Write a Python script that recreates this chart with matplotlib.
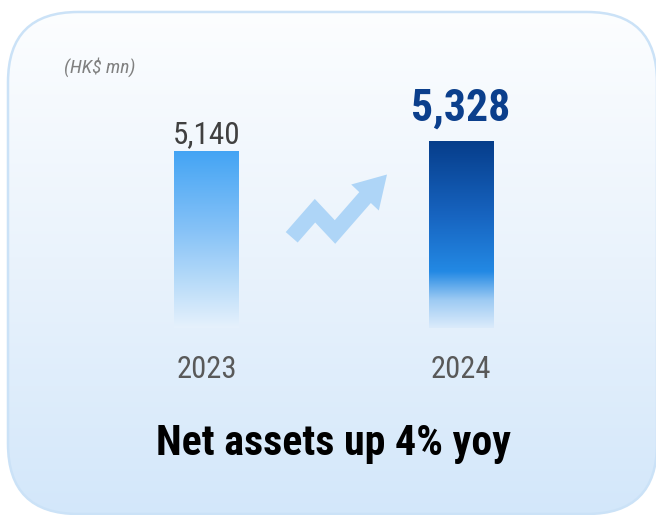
import numpy as np
import matplotlib
matplotlib.use("Agg")
import matplotlib.pyplot as plt
from matplotlib.patches import FancyBboxPatch, Polygon
from matplotlib.lines import Line2D
from matplotlib.colors import LinearSegmentedColormap

# ---- data ----
years = ["2023", "2024"]
net_assets = [5140, 5328]
value_labels = ["5,140", "5,328"]
unit_label = "(HK$ mn)"
headline = "Net assets up 4% yoy"

W, H = 656, 515
fig = plt.figure(figsize=(W / 100, H / 100), dpi=100)
fig.patch.set_facecolor("white")

NARROW = ["Roboto Condensed", "Archivo Narrow", "DejaVu Sans"]

# ---- background panel ----
bg = fig.add_axes([0, 0, 1, 1])
bg.set_xlim(0, W)
bg.set_ylim(H, 0)
bg.axis("off")
panel = FancyBboxPatch((8, 12), 649, 502, boxstyle="round,pad=0,rounding_size=70",
                       facecolor="none", edgecolor="#cbe2f7", lw=1.8, zorder=3)
bg.add_patch(panel)
bgcmap = LinearSegmentedColormap.from_list("bg", ["#fdfeff", "#eaf3fc", "#d3e7fa"])
grad = np.linspace(0, 1, 256).reshape(-1, 1)
im = bg.imshow(grad, cmap=bgcmap, extent=(0, W, H, 0), aspect="auto", zorder=1)
im.set_clip_path(panel)

# ---- arrow decoration ----
arrow_col = "#aed5f7"
bg.add_line(Line2D([291.7, 315, 335, 366], [237.3, 210.7, 232, 196.5], color=arrow_col,
                   lw=11.4, solid_joinstyle="miter", solid_capstyle="butt", zorder=4))
bg.add_patch(Polygon([(351.2, 184.5), (378.8, 210.5), (387, 174.5)], closed=True,
                     facecolor=arrow_col, edgecolor="none", zorder=4))

bg.text(64, 73, unit_label, fontsize=14, style="italic", color="#808080",
        family=NARROW, ha="left", va="baseline", zorder=5)
bg.text(334, 455, headline, fontsize=30.2, fontweight="bold", color="#000000",
        family=NARROW, ha="center", va="baseline", zorder=5)

# ---- bars ----
left_px, right_px, bot_px, top_px = 79.25, 588.25, 328, 20
ax = fig.add_axes([left_px / W, (H - bot_px) / H, (right_px - left_px) / W, (bot_px - top_px) / H])
ax.set_facecolor("none")
ax.axis("off")
ymin = 1812
ymax = 5328 + (141 - 20) * 18.8
ax.set_xlim(-0.5, 1.5)
ax.set_ylim(ymin, ymax)

bar_cmaps = [
    LinearSegmentedColormap.from_list("b1", [(0, "#e6f1fc"), (0.25, "#b9dcf9"), (0.55, "#86c2f7"), (1, "#43a4f4")]),
    LinearSegmentedColormap.from_list("b2", [(0, "#dbebfb"), (0.15, "#9ccaf3"), (0.3, "#2389e4"), (0.6, "#1764c0"), (1, "#063d8a")]),
]
xs = np.arange(len(years))
bars = ax.bar(xs, net_assets, width=0.255, bottom=0, color="none", edgecolor="none")
for b, cm, v in zip(bars, bar_cmaps, net_assets):
    x0 = b.get_x()
    gim = ax.imshow(grad[::-1], cmap=cm, extent=(x0, x0 + b.get_width(), ymin, v),
                    aspect="auto", zorder=2)
    gim.set_clip_path(b)
ax.set_xlim(-0.5, 1.5)
ax.set_ylim(ymin, ymax)

ax.annotate(value_labels[0], (xs[0], net_assets[0]), xytext=(0, 5.8), textcoords="offset points",
            ha="center", va="baseline", fontsize=22.5, color="#404040", family=NARROW)
ax.annotate(value_labels[1], (xs[1], net_assets[1]), xytext=(0, 15), textcoords="offset points",
            ha="center", va="baseline", fontsize=31.5, fontweight="bold", color="#0b3f8c", family=NARROW)
for x, y in zip(xs, years):
    ax.annotate(y, (x, ymin), xytext=(0, -36), textcoords="offset points",
                ha="center", va="baseline", fontsize=22, color="#595959", family=NARROW)

fig.savefig("out.png", dpi=100, facecolor="white")
